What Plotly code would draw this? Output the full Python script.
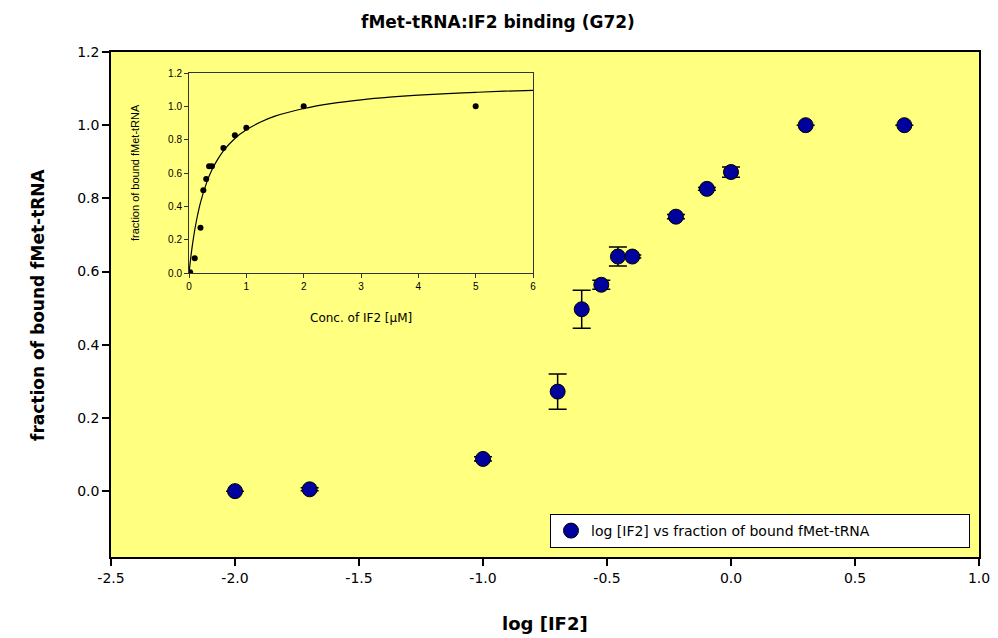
import plotly.graph_objects as go

# Main plot data (log concentration of IF2 vs fraction bound)
log_if2 = [-2.0, -1.699, -1.0, -0.699, -0.602, -0.523, -0.456, -0.398, -0.222, -0.097, 0.0, 0.301, 0.699]
fraction_bound = [0.0, 0.005, 0.088, 0.272, 0.497, 0.564, 0.641, 0.641, 0.750, 0.826, 0.872, 1.0, 1.0]
fraction_err = [0.0, 0.004, 0.006, 0.048, 0.052, 0.012, 0.026, 0.004, 0.006, 0.004, 0.014, 0.0, 0.0]

# Inset data (linear concentration)
conc_if2 = [0.01, 0.02, 0.1, 0.2, 0.25, 0.3, 0.35, 0.4, 0.6, 0.8, 1.0, 2.0, 5.0]
inset_fraction = [0.0, 0.005, 0.088, 0.272, 0.497, 0.564, 0.641, 0.641, 0.750, 0.826, 0.872, 1.0, 1.0]

# Fitted curve
curve_x = [0, 0.05, 0.1, 0.15, 0.2, 0.3, 0.4, 0.5, 0.6, 0.8, 1.0, 1.25, 1.5, 2.0, 2.5, 3.0, 3.5, 4.0, 4.5, 5.0, 5.5, 6.0]
curve_y = [0.0, 0.145, 0.258, 0.348, 0.422, 0.535, 0.619, 0.682, 0.733, 0.807, 0.859, 0.906, 0.941, 0.987,
           1.018, 1.039, 1.055, 1.067, 1.076, 1.084, 1.091, 1.096]

x_ticks = [-2.5, -2.0, -1.5, -1.0, -0.5, 0.0, 0.5, 1.0]
x_tick_labels = ["-2.5", "-2.0", "-1.5", "-1.0", "-0.5", "0.0", "0.5", "1.0"]
y_ticks = [0.0, 0.2, 0.4, 0.6, 0.8, 1.0, 1.2]
y_tick_labels = ["0.0", "0.2", "0.4", "0.6", "0.8", "1.0", "1.2"]
inset_x_ticks = [0, 1, 2, 3, 4, 5, 6]
inset_y_ticks = [0.0, 0.2, 0.4, 0.6, 0.8, 1.0, 1.2]

FONT = "DejaVu Sans"

fig = go.Figure()

fig.add_trace(go.Scatter(
    x=log_if2, y=fraction_bound, mode="markers",
    name="log [IF2] vs fraction of bound fMet-tRNA",
    marker=dict(size=15, color="#00009C", line=dict(color="black", width=1)),
    error_y=dict(type="data", array=fraction_err, visible=True, color="black", thickness=1.5, width=9),
    xaxis="x", yaxis="y",
))

fig.add_trace(go.Scatter(
    x=curve_x, y=curve_y, mode="lines", line=dict(color="black", width=1.2, shape="spline"),
    showlegend=False, xaxis="x2", yaxis="y2", hoverinfo="skip",
))
fig.add_trace(go.Scatter(
    x=conc_if2, y=inset_fraction, mode="markers",
    marker=dict(size=6, color="black"),
    showlegend=False, xaxis="x2", yaxis="y2",
))

# page is shown with an 8px body margin, so work in figure coords = page coords - 8
OFF = 8
W, H = 998, 638
PL, PR, PT, PB = 111, 979, 52, 557  # plot area in page pixels
L, R, T, B = PL - OFF, W - (PR - OFF), PT - OFF, H - (PB - OFF)
pw, ph = W - L - R, H - T - B


def px_x(p):
    return (p - OFF - L) / pw


def px_y(p):
    return (H - B - (p - OFF)) / ph


fig.update_layout(
    width=W, height=H,
    margin=dict(l=L, r=R, t=T, b=B),
    paper_bgcolor="white",
    plot_bgcolor="#FFFF80",
    font=dict(family=FONT, color="black"),
    showlegend=True,
    xaxis=dict(
        domain=[0, 1], range=[-2.5, 1.0], tickvals=x_ticks, ticktext=x_tick_labels,
        showline=True, linecolor="black", linewidth=1.5, mirror=True,
        ticks="outside", ticklen=7, tickcolor="black", tickwidth=1.5,
        showgrid=False, zeroline=False, tickfont=dict(size=14, family=FONT),
    ),
    yaxis=dict(
        domain=[0, 1], range=[-0.18, 1.2], tickvals=y_ticks, ticktext=y_tick_labels,
        showline=True, linecolor="black", linewidth=1.5, mirror=True,
        ticks="outside", ticklen=7, tickcolor="black", tickwidth=1.5,
        showgrid=False, zeroline=False, tickfont=dict(size=14, family=FONT),
    ),
    xaxis2=dict(
        domain=[px_x(189), px_x(533)], anchor="y2", range=[0, 6], tickvals=inset_x_ticks,
        showline=True, linecolor="#333333", linewidth=1, mirror=True,
        ticks="outside", ticklen=4, tickcolor="#333333",
        showgrid=False, zeroline=False, tickfont=dict(size=10, family="Liberation Sans"),
    ),
    yaxis2=dict(
        domain=[px_y(273), px_y(73)], anchor="x2", range=[0, 1.2], tickvals=inset_y_ticks, tickformat=".1f",
        showline=True, linecolor="#333333", linewidth=1, mirror=True,
        ticks="outside", ticklen=4, tickcolor="#333333",
        showgrid=False, zeroline=False, tickfont=dict(size=10, family="Liberation Sans"),
    ),
    legend=dict(
        x=px_x(970), y=px_y(548), xanchor="right", yanchor="bottom",
        orientation="h", entrywidth=373, entrywidthmode="pixels",
        bgcolor="white", bordercolor="black", borderwidth=1,
        font=dict(size=14, family=FONT),
    ),
    shapes=[dict(
        type="rect", xref="x2 domain", yref="y2 domain", x0=0, x1=1, y0=0, y1=1,
        fillcolor="white", line=dict(width=0), layer="below",
    )],
    annotations=[
        dict(text="<b>fMet-tRNA:IF2 binding (G72)</b>", xref="paper", yref="paper",
             x=px_x(498), y=px_y(22), xanchor="center", yanchor="middle", showarrow=False,
             font=dict(size=17, family=FONT)),
        dict(text="<b>log [IF2]</b>", xref="paper", yref="paper",
             x=px_x(545), y=px_y(623), xanchor="center", yanchor="middle", showarrow=False,
             font=dict(size=18, family=FONT)),
        dict(text="<b>fraction of bound fMet-tRNA</b>", xref="paper", yref="paper",
             x=px_x(38), y=px_y(305), xanchor="center", yanchor="middle", showarrow=False,
             textangle=-90, font=dict(size=17, family=FONT)),
        dict(text="fraction of bound fMet-tRNA", xref="paper", yref="paper",
             x=px_x(135), y=px_y(173), xanchor="center", yanchor="middle", showarrow=False,
             textangle=-90, font=dict(size=11, family="Liberation Sans")),
        dict(text="Conc. of IF2 [µM]", xref="paper", yref="paper",
             x=px_x(361), y=px_y(318), xanchor="center", yanchor="middle", showarrow=False,
             font=dict(size=12, family=FONT)),
    ],
)

fig.write_html("out.html")
